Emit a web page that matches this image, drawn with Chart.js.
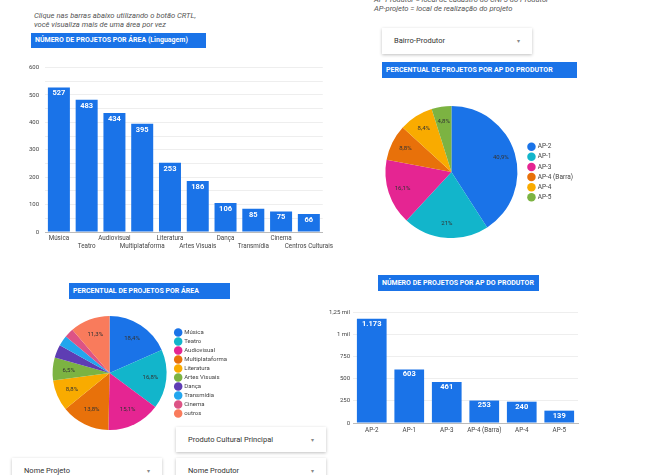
<!DOCTYPE html>
<html>
<head>
<meta charset="utf-8">
<script src="https://cdn.jsdelivr.net/npm/chart.js@4.4.1/dist/chart.umd.min.js"></script>
<style>
  body { margin: 0; background: #fff; font-family: Roboto, sans-serif; }
  #page { position: relative; width: 645px; height: 475px; overflow: hidden; }
  .abs { position: absolute; }
  .note { font-size: 7.6px; font-style: italic; color: #555; line-height: 8.5px; }
  .banner { background: #1a73e8; color: #fff; font-weight: bold; font-size: 7px; line-height: 16px; padding-left: 4px; box-sizing: border-box; white-space: nowrap; }
  .drop { background: #fff; box-shadow: 0 1px 3px rgba(0,0,0,0.25); font-size: 7.5px; color: #333; box-sizing: border-box; padding-left: 12px; }
  .drop span { position: absolute; right: 12px; color: #888; font-size: 6px; }
</style>
</head>
<body>
<div id="page">
  <div class="abs note" style="left:34px; top:12px;">Clique nas barras abaixo utilizando o botão CRTL,<br>você visualiza mais de uma área por vez</div>
  <div class="abs note" style="left:374px; top:-4px;">AP Produtor = local de cadastro do CNPJ do Produtor<br>AP-projeto = local de realização do projeto</div>

  <div class="abs banner" style="left:31px; top:33px; width:175px; height:15px; line-height:15px;">NÚMERO DE PROJETOS POR ÁREA (Linguagem)</div>
  <div class="abs drop" style="left:382px; top:28px; width:150px; height:26px; line-height:26px;">Bairro-Produtor<span>▾</span></div>
  <div class="abs banner" style="left:382px; top:62px; width:195px; height:16px;">PERCENTUAL DE PROJETOS POR AP DO PRODUTOR</div>
  <div class="abs banner" style="left:69px; top:283px; width:161px; height:16px;">PERCENTUAL DE PROJETOS POR ÁREA</div>
  <div class="abs banner" style="left:378px; top:275px; width:161px; height:16px;">NÚMERO DE PROJETOS POR AP DO PRODUTOR</div>

  <div class="abs drop" style="left:176px; top:427px; width:150px; height:25px; line-height:25px;">Produto Cultural Principal<span>▾</span></div>
  <div class="abs drop" style="left:12px; top:458px; width:150px; height:25px; line-height:25px;">Nome Projeto<span>▾</span></div>
  <div class="abs drop" style="left:176px; top:458px; width:150px; height:25px; line-height:25px;">Nome Produtor<span>▾</span></div>

  <canvas id="barArea" class="abs" width="321" height="196" style="left:15px; top:58px;"></canvas>
  <canvas id="pieAp" class="abs" width="205" height="132" style="left:378px; top:106px;"></canvas>
  <canvas id="pieArea" class="abs" width="190" height="114" style="left:47px; top:316px;"></canvas>
  <canvas id="barAp" class="abs" width="264" height="135" style="left:317px; top:304px;"></canvas>
</div>
<script>
// Areas (bar chart)
const areaLabels = ["Música", "Teatro", "Audiovisual", "Multiplataforma", "Literatura", "Artes Visuais", "Dança", "Transmídia", "Cinema", "Centros Culturais"];
const areaCounts = [527, 483, 434, 395, 253, 186, 106, 85, 75, 66];

// Areas (pie chart, small ones grouped)
const areaPieLabels = ["Música", "Teatro", "Audiovisual", "Multiplataforma", "Literatura", "Artes Visuais", "Dança", "Transmídia", "Cinema", "outros"];
const areaPieCounts = [527, 483, 434, 395, 253, 186, 106, 85, 75, 325];

// AP do produtor
const apLabels = ["AP-2", "AP-1", "AP-3", "AP-4 (Barra)", "AP-4", "AP-5"];
const apCounts = [1173, 603, 461, 253, 240, 139];

const BLUE = "#1a73e8";
const palette = ["#1a73e8", "#12b5cb", "#e52592", "#e8710a", "#f9ab00", "#7cb342", "#5e3db3", "#22a6ee", "#dc5385", "#f97b5c"];

Chart.defaults.font.family = "Roboto, sans-serif";
Chart.defaults.color = "#444";
Chart.defaults.animation = false;

function thousands(v) {
    return String(v).replace(/\B(?=(\d{3})+(?!\d))/g, ".");
}

function percent(v, i, data) {
    const total = data.reduce((a, b) => a + b, 0);
    const p = v / total * 100;
    if (p < 4) return "";
    return p.toFixed(1).replace(/\.0$/, "").replace(".", ",") + "%";
}

// simple value label plugin (bars: inside top, pie: along the slice)
const valueLabels = {
    id: "valueLabels",
    afterDatasetsDraw(chart, args, opts) {
        const ctx = chart.ctx;
        const meta = chart.getDatasetMeta(0);
        const data = chart.data.datasets[0].data;
        ctx.save();
        ctx.font = opts.font;
        ctx.fillStyle = opts.color;
        ctx.textAlign = "center";
        ctx.textBaseline = "middle";
        meta.data.forEach((el, i) => {
            const txt = opts.format(data[i], i, data);
            if (!txt) return;
            if (chart.config.type === "bar") {
                ctx.fillText(txt, el.x, el.y + opts.offset);
            } else {
                const a = (el.startAngle + el.endAngle) / 2;
                const r = el.outerRadius * opts.radius;
                ctx.fillText(txt, el.x + Math.cos(a) * r, el.y + Math.sin(a) * r);
            }
        });
        ctx.restore();
    }
};

// Número de projetos por área
new Chart(document.getElementById("barArea"), {
    type: "bar",
    data: {
        // stagger the labels on two rows
        labels: areaLabels.map((l, i) => i % 2 ? ["", l] : [l, ""]),
        datasets: [{ data: areaCounts, backgroundColor: BLUE, categoryPercentage: 0.88, barPercentage: 0.9 }]
    },
    options: {
        responsive: false,
        layout: { padding: { top: 8, right: 0, left: 0, bottom: 0 } },
        plugins: {
            legend: { display: false },
            tooltip: { enabled: false },
            valueLabels: { font: "bold 7.5px Roboto", color: "#fff", offset: 6, format: v => String(v) }
        },
        scales: {
            x: {
                grid: { display: false, drawTicks: false },
                border: { color: "#bbb" },
                ticks: { font: { size: 6.3 }, maxRotation: 0, autoSkip: false, padding: 3 },
                afterFit: s => { s.height = 22; }
            },
            y: {
                min: 0, max: 600,
                grid: { color: "#eee", drawTicks: false },
                border: { display: false },
                ticks: { stepSize: 50, font: { size: 6 }, padding: 6, callback: v => v % 100 === 0 ? v : "" },
                afterFit: s => { s.width = 30; }
            }
        }
    },
    plugins: [valueLabels]
});

// Percentual por AP do produtor
new Chart(document.getElementById("pieAp"), {
    type: "pie",
    data: {
        labels: apLabels,
        datasets: [{ data: apCounts, backgroundColor: palette.slice(0, 6), borderWidth: 0 }]
    },
    options: {
        responsive: false,
        layout: { padding: 0 },
        plugins: {
            legend: {
                position: "right",
                labels: { usePointStyle: true, pointStyle: "circle", boxWidth: 6, boxHeight: 6, padding: 3.6, font: { size: 6.5 }, color: "#444" }
            },
            tooltip: { enabled: false },
            valueLabels: { font: "6px Roboto", color: "#333", radius: 0.78, format: percent }
        }
    },
    plugins: [valueLabels]
});

// Percentual por área
new Chart(document.getElementById("pieArea"), {
    type: "pie",
    data: {
        labels: areaPieLabels,
        datasets: [{ data: areaPieCounts, backgroundColor: palette, borderWidth: 0 }]
    },
    options: {
        responsive: false,
        layout: { padding: 0 },
        plugins: {
            legend: {
                position: "right",
                labels: { usePointStyle: true, pointStyle: "circle", boxWidth: 6, boxHeight: 6, padding: 3, font: { size: 6 }, color: "#444" }
            },
            tooltip: { enabled: false },
            valueLabels: { font: "6px Roboto", color: "#333", radius: 0.72, format: percent }
        }
    },
    plugins: [valueLabels]
});

// Número de projetos por AP do produtor
new Chart(document.getElementById("barAp"), {
    type: "bar",
    data: {
        labels: apLabels,
        datasets: [{ data: apCounts, backgroundColor: BLUE, categoryPercentage: 0.88, barPercentage: 0.9 }]
    },
    options: {
        responsive: false,
        layout: { padding: { top: 8, right: 3, left: 0, bottom: 0 } },
        plugins: {
            legend: { display: false },
            tooltip: { enabled: false },
            valueLabels: { font: "bold 7.5px Roboto", color: "#fff", offset: 5, format: v => thousands(v) }
        },
        scales: {
            x: {
                grid: { display: false, drawTicks: false },
                border: { color: "#bbb" },
                ticks: { font: { size: 6.3 }, maxRotation: 0, autoSkip: false, padding: 4 },
                afterFit: s => { s.height = 16; }
            },
            y: {
                min: 0, max: 1250,
                grid: { color: "#eee", drawTicks: false },
                border: { display: false },
                ticks: { stepSize: 250, font: { size: 6 }, padding: 3,
                    callback: v => v >= 1000 ? String(v / 1000).replace(".", ",") + " mil" : v },
                afterFit: s => { s.width = 36; }
            }
        }
    },
    plugins: [valueLabels]
});
</script>
</body>
</html>
